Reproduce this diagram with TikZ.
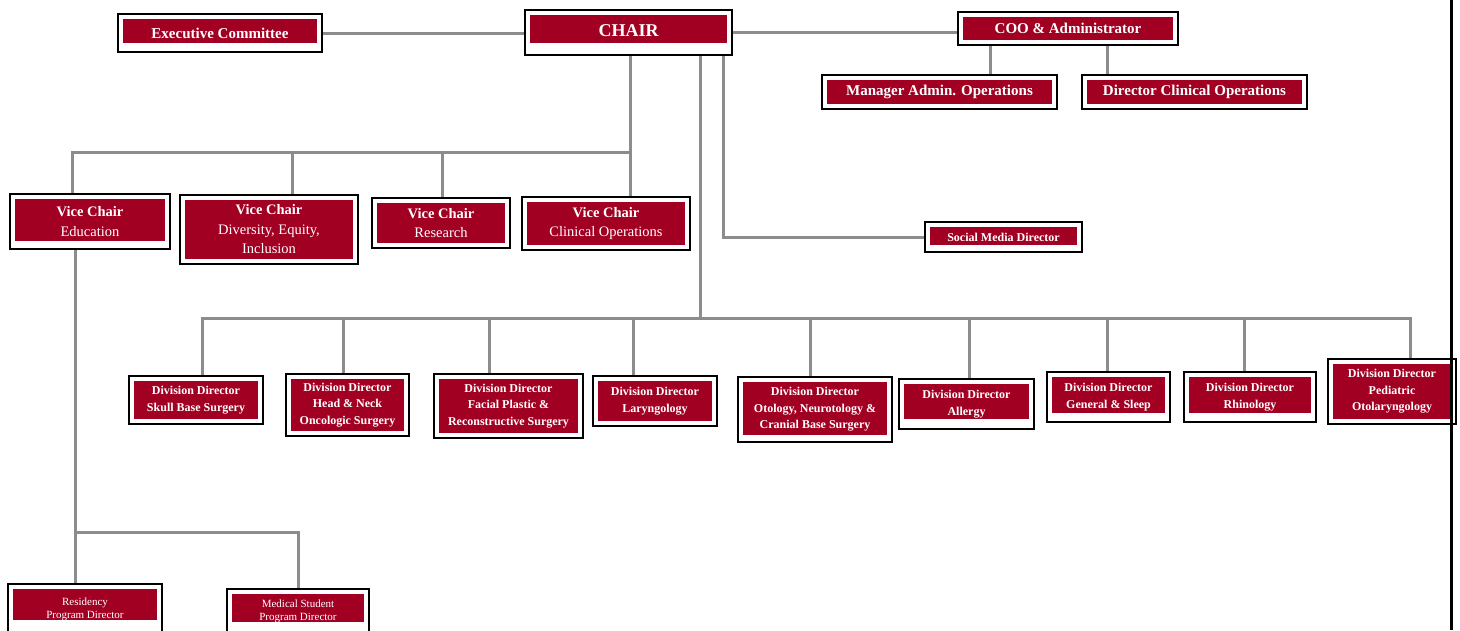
\documentclass[tikz,border=0pt]{standalone}
\usepackage{fontspec}
\setmainfont{Liberation Serif}
\definecolor{uwred}{RGB}{162,0,34}
\definecolor{linkgray}{RGB}{140,140,140}

\begin{document}
\begin{tikzpicture}[
    x=1pt, y=-1pt,
    unit/.style={draw=black, line width=2pt, fill=white, text=white, align=center, inner sep=1pt,
        path picture={\fill[uwred] ([shift={(5pt,-5pt)}]path picture bounding box.north west)
            rectangle ([shift={(-5pt,#1)}]path picture bounding box.south east);}},
    unit/.default=5pt,
    topfont/.style={font=\fontsize{15}{17}\selectfont\bfseries},
    vcfont/.style={font=\fontsize{14.5}{19.5}\selectfont},
    divfont/.style={font=\fontsize{12}{16.5}\selectfont\bfseries},
    progfont/.style={font=\fontsize{11}{13}\selectfont},
    link/.style={draw=linkgray, line width=3pt},
]
\useasboundingbox (0,0) rectangle (1460,630);
\clip (0,0) rectangle (1460,630);

% Top row
\node[unit=9pt, topfont, minimum width=204pt, minimum height=38pt] (exec) at (220,33) {Executive Committee};
\node[unit=12pt, font=\fontsize{18}{20}\selectfont\bfseries, minimum width=207pt, minimum height=45pt] (chair) at (628.5,32.5) {\raisebox{3pt}{CHAIR}};
\node[unit, topfont, minimum width=220pt, minimum height=33pt] (coo) at (1068,28.5) {COO \& Administrator};
\node[unit, topfont, minimum width=235pt, minimum height=34pt] (mgr) at (939.5,92) {Manager Admin. Operations};
\node[unit, topfont, minimum width=225pt, minimum height=34pt] (dco) at (1194.5,92) {Director Clinical Operations};

% Vice chairs
\node[unit=8pt, vcfont, minimum width=160pt, minimum height=55pt] (vcedu) at (90,221.5) {\textbf{Vice Chair}\\Education};
\node[unit, vcfont, minimum width=178pt, minimum height=69pt] (vcdei) at (269,229.5) {\textbf{Vice Chair}\\Diversity, Equity,\\Inclusion};
\node[unit, vcfont, minimum width=138pt, minimum height=50pt] (vcres) at (441,223) {\textbf{Vice Chair}\\Research};
\node[unit, vcfont, minimum width=168pt, minimum height=53pt] (vcclin) at (606,223.5) {\textbf{Vice Chair}\\Clinical Operations};
\node[unit=7pt, font=\fontsize{12}{14}\selectfont\bfseries, minimum width=157pt, minimum height=30pt] (social) at (1003.5,237) {Social Media Director};

% Division directors
\node[unit, divfont, minimum width=134pt, minimum height=48pt] (ddskull) at (196,400) {Division Director\\Skull Base Surgery};
\node[unit, divfont, minimum width=123pt, minimum height=62pt] (ddhn) at (347.5,405) {Division Director\\Head \& Neck\\Oncologic Surgery};
\node[unit, divfont, minimum width=149pt, minimum height=64pt] (ddfp) at (508.5,406) {Division Director\\Facial Plastic \&\\Reconstructive Surgery};
\node[unit, divfont, minimum width=124pt, minimum height=50pt] (ddlar) at (655,401) {Division Director\\Laryngology};
\node[unit=7pt, divfont, minimum width=154pt, minimum height=65pt] (ddoto) at (815,409.5) {Division Director\\Otology, Neurotology \&\\Cranial Base Surgery};
\node[unit=10pt, divfont, minimum width=135pt, minimum height=50pt] (ddall) at (966.5,404) {Division Director\\Allergy};
\node[unit=9pt, divfont, minimum width=123pt, minimum height=50pt] (ddgen) at (1108.5,397) {Division Director\\General \& Sleep};
\node[unit=9pt, divfont, minimum width=132pt, minimum height=50pt] (ddrhi) at (1250,397) {Division Director\\Rhinology};
\node[unit, divfont, minimum width=128pt, minimum height=65pt] (ddped) at (1392,391.5) {Division Director\\Pediatric\\Otolaryngology};

% Education programs
\node[unit=14pt, progfont, minimum width=154pt, minimum height=50pt] (resid) at (85,609) {Residency\\Program Director};
\node[unit=12pt, progfont, minimum width=142pt, minimum height=45pt] (medstu) at (298,611.5) {Medical Student\\Program Director};

% Bus points
\coordinate (vcbus) at (630,152);
\coordinate (ddbus) at (700,318);
\coordinate (edbus) at (75,532);

% Chair level
\draw[link] (exec.east) -- (exec.east -| chair.west);
\draw[link] (chair.east) -- (chair.east -| coo.west);
\draw[link] ([xshift=50.5pt]mgr.north) -- ([xshift=50.5pt]mgr.north |- coo.south);
\draw[link] ([xshift=-87.5pt]dco.north) -- ([xshift=-87.5pt]dco.north |- coo.south);

% Vice chairs
\draw[link] (chair.south -| vcbus) -- (vcbus);
\draw[link] ([xshift=-18pt]vcedu.north) |- (vcbus);
\draw[link] ([xshift=23pt]vcdei.north) |- (vcbus);
\draw[link] ([xshift=1pt]vcres.north) |- (vcbus);
\draw[link] ([xshift=24pt]vcclin.north) -- (vcbus);
\draw[link] ([xshift=94.5pt]chair.south) |- (social.west);

% Divisions
\draw[link] (chair.south -| ddbus) -- (ddbus);
\draw[link] ([xshift=6pt]ddskull.north) |- (ddbus);
\draw[link] ([xshift=-4.5pt]ddhn.north) |- (ddbus);
\draw[link] ([xshift=-19.5pt]ddfp.north) |- (ddbus);
\draw[link] ([xshift=-22pt]ddlar.north) |- (ddbus);
\draw[link] ([xshift=-5pt]ddoto.north) |- (ddbus);
\draw[link] ([xshift=2.5pt]ddall.north) |- (ddbus);
\draw[link] ([xshift=-1.5pt]ddgen.north) |- (ddbus);
\draw[link] ([xshift=-6pt]ddrhi.north) |- (ddbus);
\draw[link] ([xshift=18pt]ddped.north) |- (ddbus);

% Education
\draw[link] ([xshift=-15pt]vcedu.south) -- (edbus) -- ([xshift=-10pt]resid.north);
\draw[link] (edbus) -| (medstu.north);

% page edge
\draw[line width=3pt] (1451,0) -- (1451,630);
\end{tikzpicture}
\end{document}
